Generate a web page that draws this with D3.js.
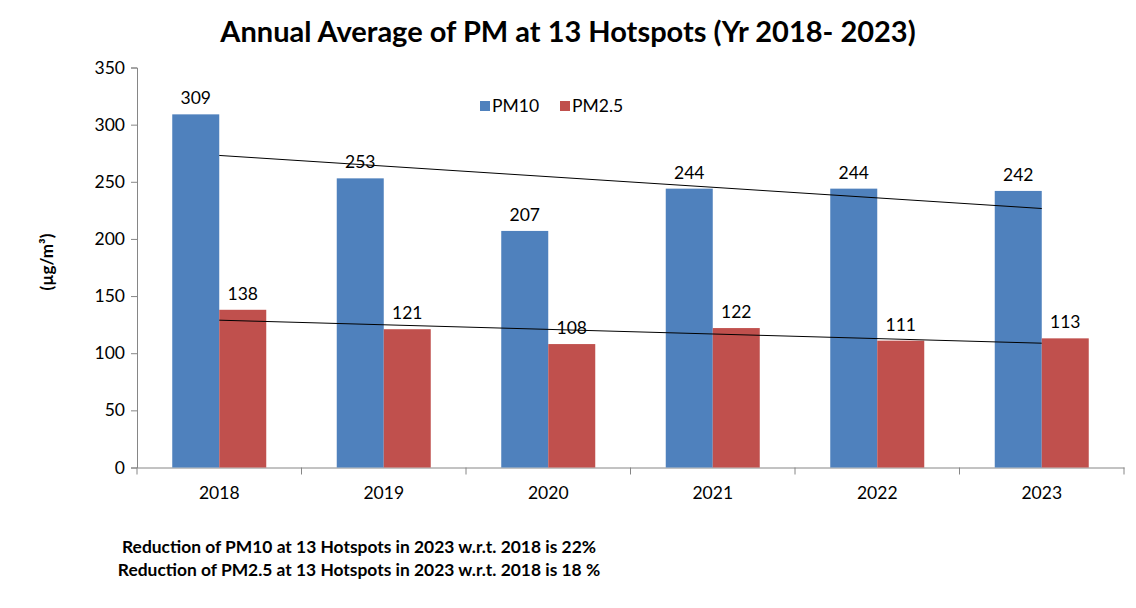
<!DOCTYPE html>
<html><head><meta charset="utf-8">
<script src="https://cdn.jsdelivr.net/npm/d3@7"></script>
<style>body{margin:0;background:#fff}svg{display:block}text{font-family:Lato,"Open Sans",sans-serif}</style>
</head><body>
<svg id="c" width="1136" height="608"></svg>
<script>
const years = ["2018","2019","2020","2021","2022","2023"];
const pm10 = [309,253,207,244,244,242];
const pm25 = [138,121,108,122,111,113];
const seriesNames = ["PM10","PM2.5"];
const colors = ["#4f81bd","#c0504d"];
const yTicks = [0,50,100,150,200,250,300,350];

const svg = d3.select("#c");
const L=137,R=1124,T=67.5,B=467.5;
const x = d3.scaleBand().domain(years).range([L,R]).paddingInner(0).paddingOuter(0);
const y = d3.scaleLinear().domain([0,350]).range([B,T]);
const bw = 47;

svg.append("text").attr("x",568).attr("y",42).attr("text-anchor","middle")
 .attr("font-size",29).attr("font-weight","bold").attr("fill","#000")
 .text("Annual Average of PM at 13 Hotspots (Yr 2018- 2023)");

// axes
const ya = svg.append("g").attr("transform",`translate(${L},0)`)
 .call(d3.axisLeft(y).tickValues(yTicks).tickSize(6).tickPadding(6));
ya.selectAll("path,line").attr("stroke","#868686");
ya.selectAll("text").attr("font-size",17.5).attr("fill","#000");
const xa = svg.append("g").attr("transform",`translate(0,${B})`)
 .call(d3.axisBottom(x).tickSize(0).tickPadding(19));
xa.select("path").attr("stroke","#868686");
xa.selectAll("text").attr("font-size",17.5).attr("fill","#000");
// boundary ticks
xa.selectAll("line.b").data(years.concat(["end"])).enter().append("line").attr("class","b")
 .attr("x1",(d,i)=>L+i*x.bandwidth()).attr("x2",(d,i)=>L+i*x.bandwidth())
 .attr("y1",0).attr("y2",7).attr("stroke","#868686");

const data=[pm10,pm25];
data.forEach((vals,s)=>{
 const g=svg.append("g");
 g.selectAll("rect").data(vals).enter().append("rect")
  .attr("x",(d,i)=>x(years[i])+x.bandwidth()/2-bw+s*bw)
  .attr("y",d=>y(d)).attr("width",bw).attr("height",d=>B-y(d)).attr("fill",colors[s]);
 g.selectAll("text").data(vals).enter().append("text")
  .attr("x",(d,i)=>x(years[i])+x.bandwidth()/2-bw/2+s*bw)
  .attr("y",d=>y(d)-10).attr("text-anchor","middle").attr("font-size",17.5).attr("fill","#000")
  .text(d=>d);
 // linear trendline
 const n=vals.length, xs=vals.map((d,i)=>i+1);
 const mx=d3.mean(xs), my=d3.mean(vals);
 const slope=d3.sum(xs.map((xx,i)=>(xx-mx)*(vals[i]-my)))/d3.sum(xs.map(xx=>(xx-mx)**2));
 const f=xx=>my+slope*(xx-mx);
 svg.append("line")
  .attr("x1",x(years[0])+x.bandwidth()/2).attr("y1",y(f(1)))
  .attr("x2",x(years[n-1])+x.bandwidth()/2).attr("y2",y(f(n)))
  .attr("stroke","#000").attr("stroke-width",1);
});

// legend
const lg=svg.append("g");
[[480,491],[560,571]].forEach((p,i)=>{
 lg.append("rect").attr("x",p[0]).attr("y",101).attr("width",10).attr("height",10).attr("fill",colors[i]);
 lg.append("text").attr("x",p[1]+1).attr("y",112).attr("font-size",17.5).attr("fill","#000").text(seriesNames[i]);
});

// y label
svg.append("text").attr("transform","translate(53,262) rotate(-90)").attr("text-anchor","middle")
 .attr("font-size",17).attr("font-weight","bold").attr("fill","#000").text("(µg/m³)");

svg.append("text").attr("x",359).attr("y",553).attr("text-anchor","middle").attr("font-size",17.4)
 .attr("font-weight","bold").attr("fill","#000").text("Reduction of PM10 at 13 Hotspots in 2023 w.r.t. 2018 is 22%");
svg.append("text").attr("x",359).attr("y",576).attr("text-anchor","middle").attr("font-size",17.4)
 .attr("font-weight","bold").attr("fill","#000").text("Reduction of PM2.5 at 13 Hotspots in 2023 w.r.t. 2018 is 18 %");
</script></body></html>
